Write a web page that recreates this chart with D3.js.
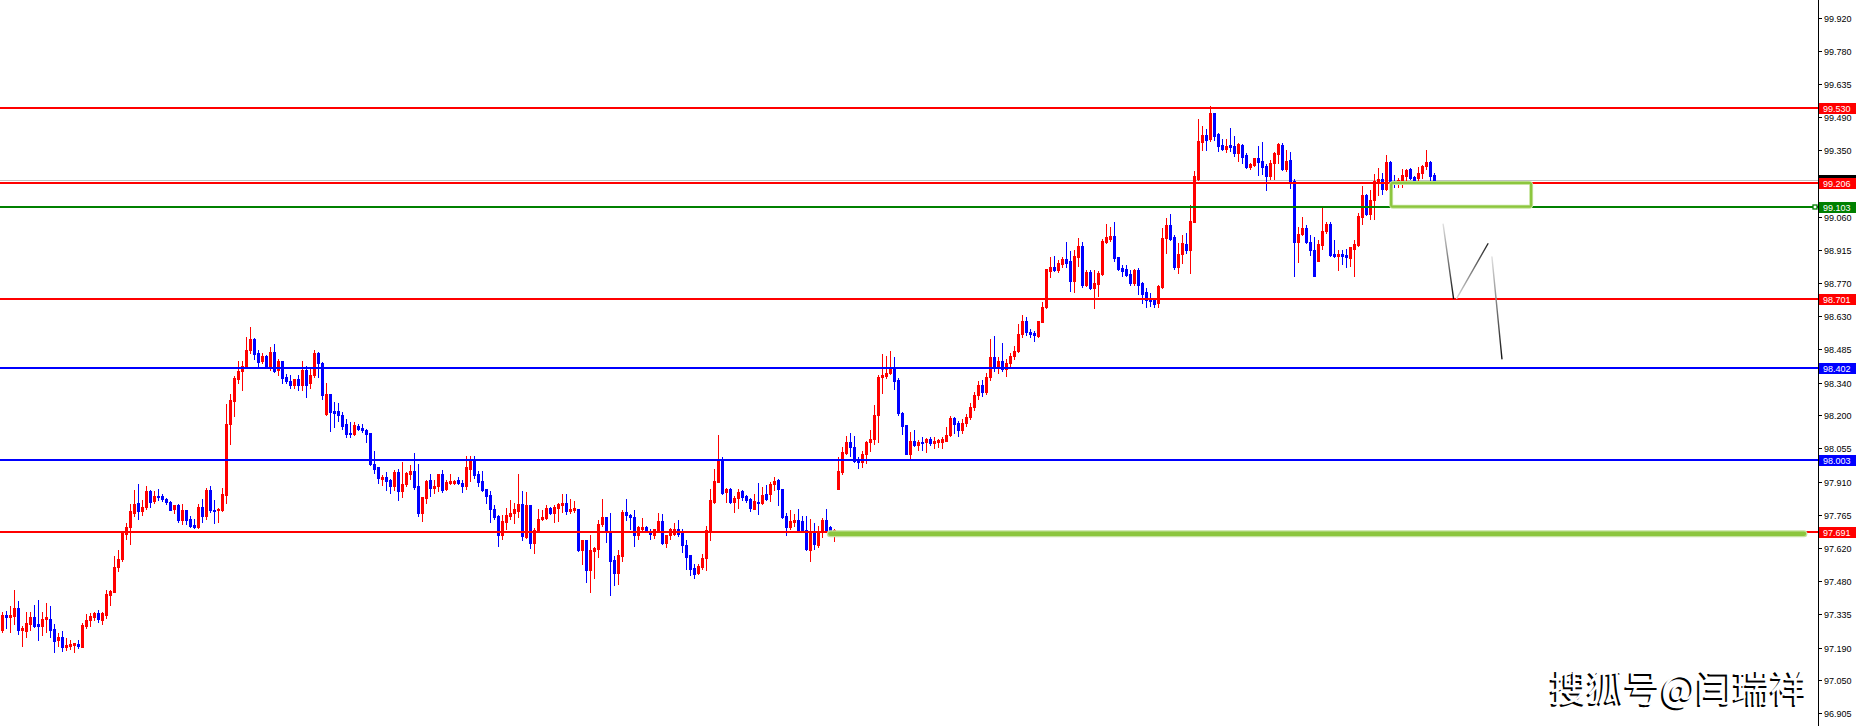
<!DOCTYPE html>
<html><head><meta charset="utf-8">
<script src="https://cdn.jsdelivr.net/npm/d3@7"></script>
<style>html,body{margin:0;padding:0;background:#fff;overflow:hidden}</style>
</head><body>
<svg id="c" width="1856" height="726" xmlns="http://www.w3.org/2000/svg"></svg>
<script>
const opens=[97.267,97.333,97.321,97.325,97.360,97.266,97.264,97.293,97.324,97.293,
97.282,97.312,97.315,97.272,97.225,97.234,97.191,97.198,97.201,97.206,
97.193,97.283,97.308,97.322,97.341,97.311,97.331,97.420,97.430,97.541,
97.575,97.684,97.713,97.773,97.817,97.782,97.802,97.868,97.824,97.847,
97.846,97.836,97.823,97.791,97.808,97.742,97.785,97.746,97.720,97.713,
97.802,97.760,97.872,97.788,97.785,97.785,97.852,98.159,98.261,98.355,
98.391,98.412,98.483,98.528,98.466,98.434,98.454,98.412,98.472,98.394,
98.433,98.362,98.346,98.331,98.354,98.331,98.396,98.338,98.372,98.470,
98.425,98.205,98.288,98.215,98.215,98.198,98.159,98.122,98.118,98.150,
98.143,98.135,98.121,97.988,97.973,97.922,97.930,97.915,97.890,97.951,
97.869,97.898,97.941,97.956,97.889,97.773,97.840,97.915,97.882,97.891,
97.941,97.876,97.904,97.906,97.915,97.905,97.891,97.964,98.005,97.944,
97.912,97.877,97.851,97.790,97.761,97.680,97.735,97.761,97.774,97.783,
97.815,97.670,97.807,97.644,97.696,97.749,97.752,97.797,97.776,97.797,
97.807,97.818,97.781,97.786,97.793,97.612,97.655,97.528,97.609,97.616,
97.725,97.755,97.689,97.568,97.515,97.586,97.777,97.767,97.758,97.678,
97.706,97.712,97.687,97.680,97.699,97.738,97.644,97.677,97.684,97.703,
97.687,97.636,97.590,97.535,97.513,97.539,97.578,97.699,97.822,97.909,
98.003,97.865,97.876,97.822,97.841,97.868,97.847,97.834,97.790,97.822,
97.818,97.858,97.855,97.899,97.916,97.876,97.760,97.713,97.735,97.742,
97.738,97.699,97.612,97.691,97.633,97.691,97.742,97.713,97.690,97.877,
97.951,98.035,98.084,98.062,98.009,97.994,98.030,98.081,98.093,98.197,
98.364,98.367,98.381,98.400,98.349,98.209,98.154,98.030,98.088,98.071,
98.084,98.081,98.093,98.078,98.081,98.084,98.088,98.112,98.188,98.164,
98.135,98.165,98.190,98.235,98.285,98.330,98.300,98.365,98.450,98.410,
98.435,98.400,98.425,98.455,98.478,98.551,98.609,98.561,98.554,98.541,
98.604,98.667,98.822,98.841,98.829,98.855,98.874,98.865,98.780,98.884,
98.931,98.765,98.819,98.749,98.768,98.812,98.949,98.964,98.976,98.884,
98.836,98.832,98.809,98.773,98.826,98.771,98.732,98.700,98.700,98.684,
98.754,98.967,99.022,98.971,98.841,98.896,98.942,98.913,99.036,99.225,
99.384,99.413,99.395,99.508,99.418,99.370,99.352,99.370,99.366,99.337,
99.370,99.326,99.276,99.283,99.312,99.300,99.278,99.235,99.293,99.331,
99.370,99.265,99.305,99.215,98.949,98.986,99.010,98.949,98.913,98.865,
98.935,98.996,99.029,98.896,98.888,98.896,98.891,98.880,98.920,98.935,
99.058,99.152,99.070,99.131,99.210,99.225,99.181,99.297,99.213,99.210,
99.213,99.236,99.265,99.232,99.229,99.250,99.279,99.297,99.239];
const highs=[97.343,97.350,97.372,97.441,97.394,97.285,97.346,97.346,97.375,97.398,
97.346,97.385,97.372,97.292,97.253,97.263,97.231,97.224,97.212,97.224,
97.296,97.336,97.338,97.346,97.354,97.346,97.440,97.441,97.589,97.615,
97.698,97.730,97.811,97.875,97.898,97.829,97.889,97.875,97.868,97.876,
97.858,97.840,97.824,97.807,97.813,97.811,97.785,97.762,97.746,97.811,
97.836,97.882,97.889,97.829,97.794,97.884,98.246,98.290,98.368,98.433,
98.433,98.539,98.582,98.531,98.481,98.466,98.459,98.495,98.507,98.444,
98.433,98.376,98.372,98.357,98.372,98.433,98.411,98.401,98.483,98.473,
98.430,98.336,98.288,98.256,98.251,98.212,98.183,98.169,98.169,98.159,
98.159,98.140,98.121,98.041,97.973,97.937,97.951,97.922,97.959,97.966,
97.995,97.951,97.980,98.036,97.985,97.843,97.915,97.944,97.915,97.944,
97.959,97.918,97.941,97.919,97.930,97.918,98.020,98.020,98.021,97.956,
97.957,97.877,97.868,97.810,97.764,97.764,97.796,97.829,97.819,97.942,
97.868,97.864,97.810,97.710,97.793,97.786,97.807,97.800,97.807,97.818,
97.858,97.858,97.834,97.825,97.793,97.655,97.658,97.680,97.626,97.745,
97.834,97.757,97.776,97.587,97.612,97.789,97.834,97.770,97.786,97.716,
97.752,97.718,97.705,97.706,97.776,97.771,97.680,97.709,97.731,97.742,
97.706,97.655,97.590,97.554,97.554,97.597,97.719,97.880,97.964,98.112,
98.015,97.884,97.884,97.848,97.877,97.873,97.854,97.841,97.855,97.905,
97.887,97.894,97.909,97.931,97.921,97.880,97.774,97.786,97.768,97.790,
97.761,97.761,97.749,97.731,97.716,97.754,97.790,97.716,97.706,98.015,
98.059,98.110,98.120,98.110,98.016,98.042,98.088,98.132,98.241,98.371,
98.462,98.455,98.475,98.451,98.359,98.212,98.157,98.125,98.132,98.091,
98.103,98.098,98.103,98.103,98.096,98.103,98.149,98.193,98.190,98.171,
98.180,98.205,98.250,98.300,98.345,98.350,98.380,98.530,98.540,98.450,
98.512,98.440,98.470,98.500,98.594,98.635,98.626,98.573,98.562,98.609,
98.688,98.834,98.884,98.887,98.870,98.884,98.950,98.910,98.913,98.968,
98.950,98.826,98.826,98.826,98.823,98.964,99.026,99.015,99.036,98.884,
98.848,98.848,98.826,98.831,98.836,98.775,98.749,98.728,98.706,98.761,
99.012,99.055,99.073,98.981,98.947,98.978,98.990,99.109,99.257,99.482,
99.452,99.438,99.540,99.511,99.421,99.395,99.395,99.442,99.409,99.380,
99.374,99.334,99.293,99.316,99.366,99.384,99.290,99.305,99.341,99.380,
99.377,99.348,99.341,99.221,99.015,99.058,99.022,98.978,98.971,98.957,
99.097,99.036,99.036,98.957,98.916,98.913,98.920,98.928,98.959,99.075,
99.192,99.157,99.177,99.244,99.271,99.250,99.326,99.300,99.239,99.229,
99.265,99.265,99.271,99.236,99.276,99.283,99.348,99.300,99.249];
const lows=[97.256,97.273,97.259,97.292,97.249,97.195,97.238,97.267,97.278,97.224,
97.244,97.259,97.234,97.173,97.195,97.176,97.180,97.186,97.169,97.188,
97.191,97.273,97.282,97.309,97.302,97.292,97.318,97.376,97.430,97.524,
97.565,97.663,97.640,97.763,97.749,97.766,97.792,97.800,97.817,97.829,
97.827,97.813,97.785,97.773,97.737,97.727,97.727,97.713,97.708,97.710,
97.737,97.749,97.778,97.730,97.734,97.782,97.817,98.075,98.194,98.336,
98.307,98.408,98.466,98.444,98.408,98.423,98.404,98.394,98.385,98.372,
98.338,98.338,98.318,98.318,98.309,98.309,98.278,98.318,98.365,98.365,
98.267,98.201,98.130,98.147,98.173,98.140,98.104,98.104,98.111,98.133,
98.127,98.082,97.983,97.947,97.903,97.896,97.872,97.860,97.872,97.832,
97.843,97.893,97.922,97.879,97.763,97.741,97.817,97.847,97.860,97.869,
97.864,97.872,97.898,97.901,97.901,97.867,97.876,97.912,97.925,97.893,
97.870,97.818,97.735,97.750,97.631,97.660,97.706,97.747,97.731,97.757,
97.655,97.667,97.622,97.600,97.692,97.742,97.749,97.768,97.736,97.739,
97.778,97.768,97.776,97.778,97.607,97.551,97.473,97.433,97.491,97.583,
97.718,97.647,97.420,97.461,97.464,97.564,97.742,97.705,97.631,97.661,
97.699,97.690,97.661,97.665,97.694,97.641,97.626,97.662,97.677,97.676,
97.604,97.531,97.504,97.491,97.509,97.529,97.525,97.658,97.818,97.909,
97.858,97.822,97.818,97.778,97.797,97.829,97.822,97.781,97.790,97.771,
97.813,97.829,97.825,97.873,97.807,97.754,97.680,97.706,97.716,97.694,
97.691,97.615,97.564,97.616,97.626,97.670,97.692,97.694,97.652,97.877,
97.943,98.030,98.023,97.994,97.968,97.972,97.990,98.045,98.074,98.081,
98.294,98.359,98.378,98.310,98.201,98.117,98.029,98.004,98.064,98.048,
98.048,98.038,98.071,98.056,98.059,98.055,98.088,98.110,98.120,98.110,
98.120,98.150,98.180,98.220,98.270,98.280,98.290,98.350,98.390,98.380,
98.390,98.370,98.410,98.440,98.471,98.536,98.544,98.536,98.519,98.536,
98.602,98.664,98.797,98.822,98.819,98.841,98.841,98.739,98.732,98.844,
98.754,98.757,98.746,98.662,98.717,98.807,98.945,98.954,98.867,98.829,
98.802,98.802,98.764,98.765,98.725,98.684,98.667,98.674,98.667,98.667,
98.749,98.902,98.957,98.834,98.816,98.858,98.902,98.815,99.036,99.218,
99.348,99.348,99.389,99.392,99.344,99.348,99.341,99.345,99.322,99.300,
99.293,99.271,99.268,99.278,99.239,99.244,99.174,99.225,99.221,99.294,
99.261,99.257,99.184,98.804,98.862,98.978,98.945,98.894,98.801,98.865,
98.920,98.988,98.888,98.884,98.826,98.855,98.843,98.845,98.801,98.932,
99.026,99.065,99.048,99.048,99.155,99.157,99.174,99.186,99.189,99.186,
99.189,99.210,99.225,99.210,99.218,99.229,99.268,99.210,99.206];
const closes=[97.331,97.321,97.333,97.360,97.267,97.273,97.296,97.324,97.285,97.282,
97.315,97.321,97.267,97.220,97.237,97.193,97.202,97.205,97.208,97.196,
97.289,97.311,97.328,97.340,97.312,97.340,97.423,97.434,97.541,97.575,
97.686,97.713,97.782,97.814,97.781,97.802,97.871,97.823,97.846,97.842,
97.834,97.821,97.789,97.807,97.742,97.785,97.744,97.717,97.713,97.802,
97.763,97.872,97.785,97.781,97.791,97.855,98.162,98.264,98.358,98.390,
98.412,98.483,98.528,98.463,98.427,98.454,98.412,98.473,98.388,98.433,
98.360,98.347,98.331,98.354,98.331,98.396,98.331,98.372,98.470,98.423,
98.285,98.288,98.212,98.208,98.198,98.150,98.115,98.115,98.154,98.138,
98.135,98.118,97.988,97.966,97.927,97.932,97.912,97.892,97.951,97.869,
97.898,97.949,97.956,97.886,97.773,97.843,97.911,97.882,97.893,97.941,
97.875,97.908,97.911,97.914,97.905,97.891,97.973,97.999,97.937,97.908,
97.873,97.848,97.790,97.757,97.680,97.738,97.764,97.774,97.790,97.815,
97.674,97.807,97.644,97.699,97.749,97.757,97.797,97.776,97.800,97.812,
97.816,97.781,97.790,97.794,97.612,97.655,97.525,97.612,97.620,97.725,
97.755,97.691,97.564,97.515,97.590,97.777,97.764,97.755,97.678,97.713,
97.713,97.696,97.683,97.703,97.738,97.644,97.677,97.703,97.703,97.683,
97.633,97.583,97.529,97.510,97.546,97.580,97.699,97.829,97.912,97.999,
97.861,97.876,97.822,97.841,97.863,97.844,97.832,97.796,97.825,97.818,
97.854,97.834,97.899,97.912,97.876,97.757,97.713,97.739,97.742,97.696,
97.696,97.616,97.691,97.638,97.691,97.742,97.696,97.699,97.699,97.955,
98.040,98.084,98.059,98.001,97.994,98.030,98.084,98.096,98.201,98.364,
98.371,98.383,98.400,98.346,98.207,98.151,98.030,98.088,98.071,98.084,
98.077,98.093,98.078,98.088,98.091,98.093,98.114,98.188,98.161,98.135,
98.165,98.190,98.235,98.285,98.330,98.300,98.365,98.450,98.410,98.435,
98.400,98.425,98.455,98.478,98.551,98.609,98.558,98.550,98.544,98.609,
98.667,98.831,98.841,98.826,98.858,98.874,98.860,98.780,98.889,98.931,
98.765,98.819,98.749,98.771,98.815,98.952,98.971,98.976,98.880,98.831,
98.822,98.805,98.773,98.826,98.764,98.725,98.700,98.693,98.681,98.757,
98.968,99.022,98.964,98.841,98.899,98.947,98.913,99.039,99.235,99.387,
99.413,99.392,99.508,99.409,99.367,99.352,99.367,99.363,99.337,99.374,
99.319,99.276,99.287,99.312,99.297,99.276,99.235,99.294,99.334,99.373,
99.265,99.300,99.210,98.949,98.986,99.012,98.949,98.913,98.804,98.939,
98.996,99.029,98.891,98.888,98.896,98.888,98.884,98.928,98.939,99.061,
99.152,99.070,99.133,99.215,99.225,99.181,99.297,99.210,99.207,99.218,
99.239,99.261,99.229,99.215,99.251,99.279,99.297,99.236,99.218];

const tickValues=[99.920,99.780,99.635,99.490,99.350,99.205,99.060,98.915,98.770,98.630,98.485,98.340,98.200,98.055,97.910,97.765,97.620,97.480,97.335,97.190,97.050,96.905];
const resistanceLevels=[99.530,99.206,98.701,97.691];
const supportLevels=[98.402,98.003];
const pivotLevels=[99.103];
const bidPrice=99.218;
const zoneBars=[347.2,382.2];
const zonePrices=[99.206,99.103];
const bandBars=[207,450.4];
const bandPrice=97.684;
const strokeA=[[360.2,99.027],[362.8,98.705]];
const strokeB=[[363.6,98.705],[371.4,98.942]];
const strokeC=[[372.4,98.885],[374.9,98.443]];
const watermark="搜狐号@闫瑞祥";

const W=1856,H=726,axisX=1818;
const svg=d3.select("#c");
const x=d3.scaleLinear().domain([0,454]).range([2.33,1818.33]);
const y=d3.scaleLinear().domain([99.92,96.905]).range([18.3,713.3]);
const fmt=d3.format(".3f");
const RED="#ff0000",BLUE="#0000ff",GREEN="#008000";

svg.append("rect").attr("width",W).attr("height",H).attr("fill","#fff");

const defs=svg.append("defs");
function grad(id,p,c1,c2){
  const g=defs.append("linearGradient").attr("id",id).attr("gradientUnits","userSpaceOnUse")
    .attr("x1",x(p[0][0])).attr("y1",y(p[0][1])).attr("x2",x(p[1][0])).attr("y2",y(p[1][1]));
  g.append("stop").attr("offset","0").attr("stop-color",c1);
  g.append("stop").attr("offset","1").attr("stop-color",c2);
}

// bid line
svg.append("rect").attr("x",0).attr("width",axisX).attr("y",Math.round(y(bidPrice))).attr("height",1).attr("fill","#c0c0c0");

// candles
const data=opens.map((o,i)=>({i,o,h:highs[i],l:lows[i],c:closes[i]}));
const g=svg.append("g").attr("shape-rendering","crispEdges");
data.forEach(d=>{
  const col=d.c>=d.o?RED:BLUE;
  const cx=Math.round(x(d.i));
  const yh=Math.round(y(d.h)),yl=Math.round(y(d.l));
  g.append("rect").attr("x",cx).attr("width",1).attr("y",yh).attr("height",Math.max(1,yl-yh+1)).attr("fill",col);
  const yt=Math.round(y(Math.max(d.o,d.c))),yb=Math.round(y(Math.min(d.o,d.c)));
  g.append("rect").attr("x",cx-1).attr("width",3).attr("y",yt).attr("height",Math.max(1,yb-yt+1)).attr("fill",col);
});

// level lines
function hline(v,col){
  svg.append("rect").attr("x",0).attr("width",axisX).attr("y",Math.round(y(v))-1).attr("height",2).attr("fill",col).attr("shape-rendering","crispEdges");
}
resistanceLevels.forEach(v=>hline(v,RED));
supportLevels.forEach(v=>hline(v,BLUE));
pivotLevels.forEach(v=>hline(v,GREEN));

// green support band
svg.append("line").attr("x1",x(bandBars[0])).attr("x2",x(bandBars[1])).attr("y1",y(bandPrice)).attr("y2",y(bandPrice))
  .attr("stroke","#c6e3a0").attr("stroke-width",7).attr("stroke-linecap","round");
svg.append("line").attr("x1",x(bandBars[0])).attr("x2",x(bandBars[1])).attr("y1",y(bandPrice)).attr("y2",y(bandPrice))
  .attr("stroke","#8cc63e").attr("stroke-width",4.5).attr("stroke-linecap","round");

// zone rectangle
const zx0=x(zoneBars[0]),zx1=x(zoneBars[1]),zy0=y(zonePrices[0]),zy1=y(zonePrices[1]);
svg.append("rect").attr("x",zx0).attr("y",zy0).attr("width",zx1-zx0).attr("height",zy1-zy0).attr("rx",2)
  .attr("fill","none").attr("stroke","#c8e6a2").attr("stroke-width",4);
svg.append("rect").attr("x",zx0).attr("y",zy0).attr("width",zx1-zx0).attr("height",zy1-zy0).attr("rx",2)
  .attr("fill","none").attr("stroke","#8cc63e").attr("stroke-width",2.2);

// hand-drawn strokes
grad("gA",strokeA,"#e0e0e0","#111");
grad("gB",strokeB,"#d8d8d8","#222");
grad("gC",strokeC,"#e0e0e0","#111");
[[strokeA,"gA"],[strokeB,"gB"],[strokeC,"gC"]].forEach(([p,id])=>{
  svg.append("line").attr("x1",x(p[0][0])).attr("y1",y(p[0][1])).attr("x2",x(p[1][0])).attr("y2",y(p[1][1]))
    .attr("stroke",`url(#${id})`).attr("stroke-width",1.4).attr("stroke-linecap","round");
});

// pivot marker square
pivotLevels.forEach(v=>{
  svg.append("rect").attr("x",1813).attr("y",Math.round(y(v))-2).attr("width",4).attr("height",4)
    .attr("fill","#fff").attr("stroke",GREEN).attr("stroke-width",1.3);
});

// axis
svg.append("rect").attr("x",axisX).attr("y",0).attr("width",1).attr("height",H).attr("fill","#000");
const ax=svg.append("g").attr("font-family","'Liberation Sans',Arial,sans-serif").attr("font-size","9px");
tickValues.forEach(v=>{
  const yy=Math.round(y(v));
  ax.append("rect").attr("x",axisX+1).attr("y",yy).attr("width",3).attr("height",1).attr("fill","#000");
  ax.append("text").attr("x",1824).attr("y",yy+0.5).attr("dominant-baseline","central").attr("fill","#000").text(fmt(v));
});

// price labels
function plabel(v,col,txt){
  const yy=Math.round(y(v));
  svg.append("rect").attr("x",axisX+1).attr("y",yy-5).attr("width",W-axisX-1).attr("height",11).attr("fill",col);
  if(txt) svg.append("text").attr("x",1823).attr("y",yy+0.5).attr("dominant-baseline","central")
    .attr("font-family","'Liberation Sans',Arial,sans-serif").attr("font-size","9px").attr("fill","#fff").text(fmt(v));
}
plabel(bidPrice,"#000",false);
resistanceLevels.forEach(v=>plabel(v,RED,true));
supportLevels.forEach(v=>plabel(v,BLUE,true));
pivotLevels.forEach(v=>plabel(v,GREEN,true));

// watermark
const wm=svg.append("g").attr("font-family","'Noto Sans CJK SC','Noto Sans CJK JP',sans-serif").attr("font-size","37px");
wm.append("text").attr("x",1548).attr("y",704).attr("fill","#000").text(watermark);
wm.append("text").attr("x",1550).attr("y",702).attr("fill","#fff").text(watermark);
</script>
</body></html>
